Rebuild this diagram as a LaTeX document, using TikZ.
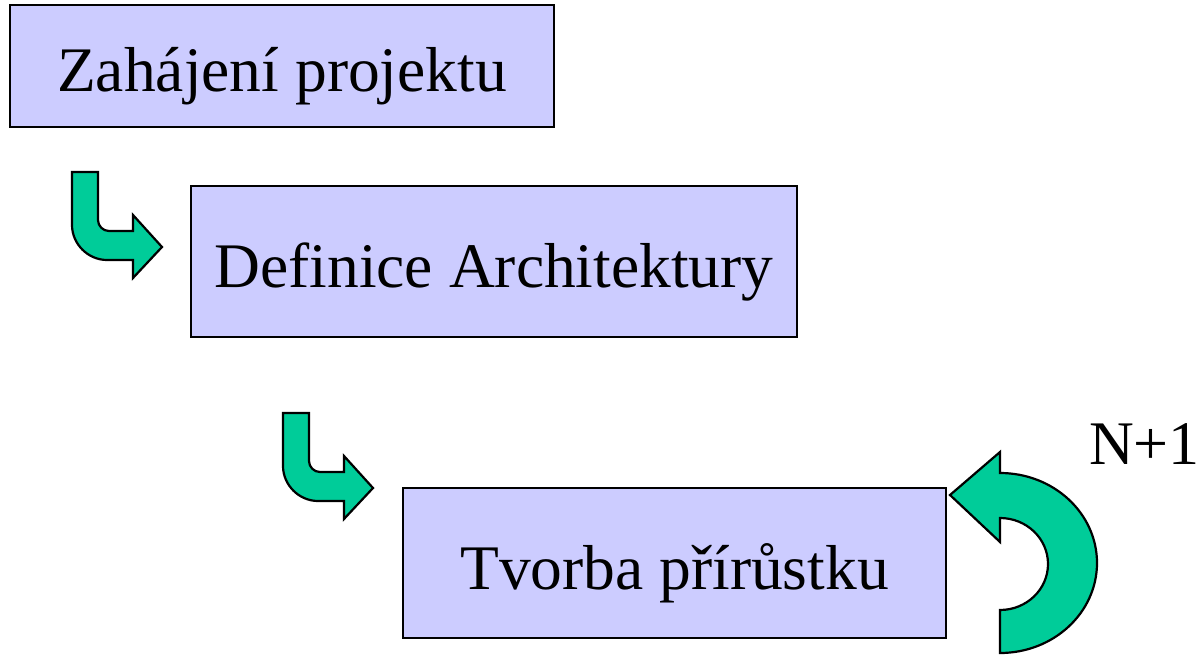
\documentclass[tikz,border=0pt]{standalone}
\usepackage{fontspec}
\setmainfont{Liberation Serif}
\definecolor{boxfill}{HTML}{CCCCFF}
\definecolor{arrowfill}{HTML}{00CC99}
\tikzset{
  stepbox/.style={draw=black, line width=2.5pt, fill=boxfill, inner sep=0pt,
    font=\fontsize{63.5}{70}\selectfont, text height=52pt, text depth=0pt},
  blockarrow/.style={draw=black, line width=2.2pt, fill=arrowfill, line join=miter},
  lbl/.style={inner sep=0pt, font=\fontsize{62}{68}\selectfont, anchor=base east}
}
\begin{document}
\begin{tikzpicture}[x=1pt,y=-1pt]
\useasboundingbox (0,0) rectangle (1201,655);
% boxes
\node[stepbox, minimum width=544pt, minimum height=122pt] (start) at (282,66) {Zahájení projektu};
\node[stepbox, minimum width=606pt, minimum height=151pt] (arch) at (494,261.5) {Definice Architektury};
\node[stepbox, minimum width=543pt, minimum height=150pt] (incr) at (674.5,563) {Tvorba přírůstku};
% bent arrows
\foreach \dx/\dy in {0/0, 211/241}{
  \begin{scope}[shift={(\dx,\dy)}]
  \draw[blockarrow] (72,172) -- (98,172) -- (98,220)
    .. controls (98,226) and (103,231) .. (109,231)
    -- (133,231) -- (133,215) -- (162,247) -- (133,278) -- (133,260) -- (107,260)
    .. controls (88,260) and (72,244) .. (72,225) -- cycle;
  \end{scope}
}
% U-turn arrow
\draw[blockarrow] (1000,473)
  .. controls (1053.6,473) and (1097,513.3) .. (1097,563)
  .. controls (1097,612.7) and (1053.6,653) .. (1000,653)
  -- (1000,610)
  .. controls (1026.5,610) and (1048,589.4) .. (1048,564)
  .. controls (1048,538.6) and (1026.5,518) .. (1000,518)
  -- (1000,542) -- (950,495) -- (1000,452) -- cycle;
\node[lbl] (loop) at (1200,464) {N+1};
\end{tikzpicture}
\end{document}
